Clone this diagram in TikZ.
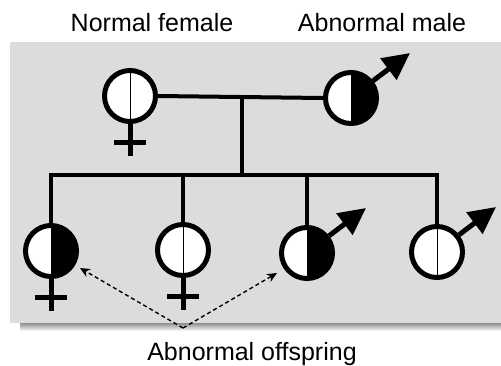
\documentclass[tikz,border=0pt]{standalone}
\usepackage{fontspec}
\setmainfont{Liberation Sans}
\usetikzlibrary{arrows.meta}
\definecolor{bg}{RGB}{220,220,220}
\definecolor{shade}{RGB}{175,175,175}
\tikzset{
  person/.style={circle, draw=black, fill=white, line width=5pt, minimum size=51pt, inner sep=0pt},
  normal/.style={person, path picture={\draw[line width=0.9pt] (path picture bounding box.north) -- (path picture bounding box.south);}},
  affected/.style={person, path picture={\fill[black] (path picture bounding box.north) rectangle (path picture bounding box.south east);}},
  link/.style={line width=4pt},
  sexmark/.style={line width=5pt},
  malearrow/.style={line width=5pt, -{Triangle[length=27pt 0,width=26pt 0]}},
  pointer/.style={line width=1.4pt, dash pattern=on 4pt off 3pt, -{Stealth[length=10pt 0,width=9pt 0]}},
  lbl/.style={font=\fontsize{25}{30}\selectfont, anchor=base}
}
\begin{document}
\begin{tikzpicture}[x=1pt,y=-1pt]
\useasboundingbox (0,0) rectangle (501,365);
\fill[shade] (20,322) rectangle (501,331);
\fill[bg] (10,42) rectangle (501,323);
% labels
\node[lbl] (tf) at (152,31) {Normal female};
\node[lbl] (tm) at (382,31) {Abnormal male};
\node[lbl] (to) at (252,360) {Abnormal offspring};
% parents
\node[normal] (f) at (130,96) {};
\node[affected] (m) at (351,98) {};
% children
\node[affected] (c1) at (51,251) {};
\node[normal] (c2) at (183,250) {};
\node[affected] (c3) at (307,253) {};
\node[normal] (c4) at (437,252) {};
% connectors
\coordinate (mid) at (242,98);
\coordinate (sib) at (242,175);
\coordinate (s1) at (51,175);
\coordinate (s2) at (183,175);
\coordinate (s3) at (307,175);
\coordinate (s4) at (437,175);
\draw[link] (f.east) -- (m.west);
\draw[link] (mid) -- (sib);
\draw[link] ([xshift=-2pt]s1) -- ([xshift=2pt]s4);
\draw[link] ([yshift=-2pt]s1) -- (c1.north);
\draw[link] ([yshift=-2pt]s2) -- (c2.north);
\draw[link] ([yshift=-2pt]s3) -- (c3.north);
\draw[link] ([yshift=-2pt]s4) -- (c4.north);
% female crosses
\foreach \n in {f,c1,c2}{
  \draw[sexmark] (\n.south) -- ++(0,32);
  \draw[sexmark] ([shift={(-16,18)}]\n.south) -- ++(32,0);
}
% male arrows
\foreach \n in {m,c3,c4}{
  \draw[malearrow] (\n.38) -- ([shift={(59,-45)}]\n.center);
}
% pointers
\coordinate (src) at (183,328);
\draw[pointer] (src) -- (80,268);
\draw[pointer] (src) -- (277,273);
\end{tikzpicture}
\end{document}
